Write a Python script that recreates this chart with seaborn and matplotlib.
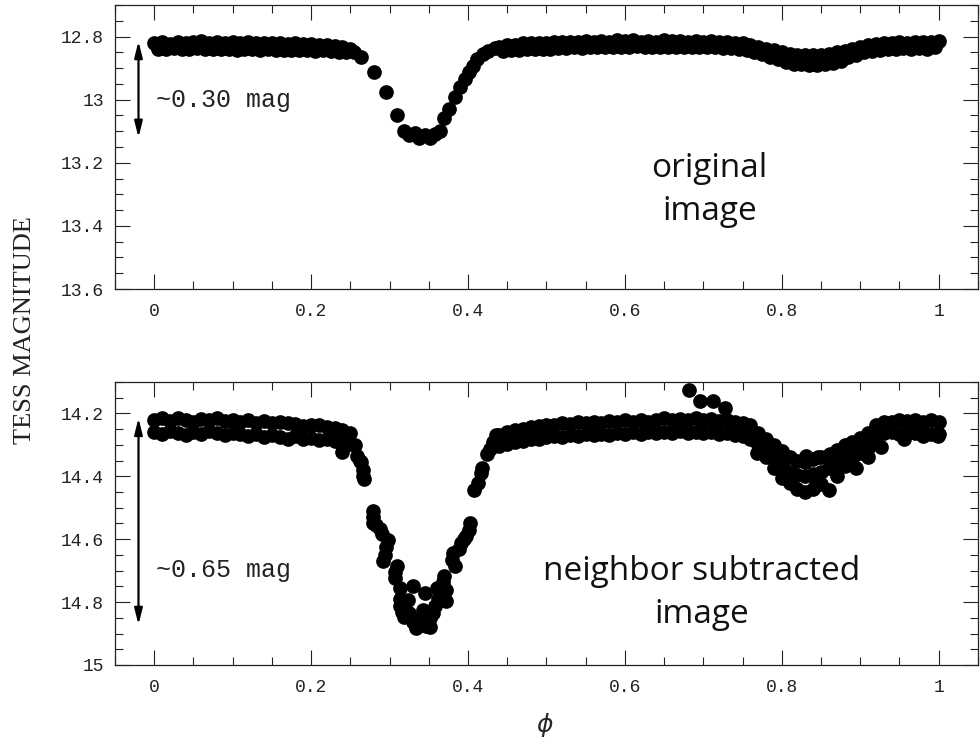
import numpy as np
import pandas as pd
import matplotlib
matplotlib.use("Agg")
import matplotlib.pyplot as plt
import seaborn as sns
from matplotlib.ticker import MultipleLocator, FuncFormatter

sns.set_theme(style="ticks")

# ---- top panel: original image light curve (phase, TESS mag) ----
# out of eclipse 0 - 0.25, two interleaved rows
top_a_phase = [0.00, 0.01, 0.02, 0.03, 0.04, 0.05, 0.06, 0.07, 0.08, 0.09, 0.10, 0.11,
               0.12, 0.13, 0.14, 0.15, 0.16, 0.17, 0.18, 0.19, 0.20, 0.21, 0.22, 0.23,
               0.24, 0.25]
top_a_up = [12.822, 12.818, 12.824, 12.816, 12.822, 12.818, 12.814, 12.820, 12.818,
            12.822, 12.818, 12.820, 12.816, 12.822, 12.820, 12.822, 12.820, 12.824,
            12.822, 12.824, 12.824, 12.826, 12.826, 12.830, 12.832, 12.840]
top_a_lo_phase = [0.005, 0.015, 0.025, 0.035, 0.045, 0.055, 0.065, 0.075, 0.085, 0.095,
                  0.105, 0.115, 0.125, 0.135, 0.145, 0.155, 0.165, 0.175, 0.185, 0.195,
                  0.205, 0.215, 0.225, 0.235, 0.245]
top_a_lo = [12.838, 12.840, 12.836, 12.840, 12.838, 12.836, 12.840, 12.838, 12.840,
            12.838, 12.842, 12.838, 12.840, 12.842, 12.840, 12.842, 12.842, 12.844,
            12.842, 12.844, 12.846, 12.844, 12.846, 12.848, 12.850]

# primary eclipse
top_ecl_phase = [0.255, 0.264, 0.280, 0.295, 0.310, 0.318, 0.325, 0.332, 0.338, 0.345,
                 0.352, 0.358, 0.364, 0.370, 0.376, 0.383, 0.390, 0.396, 0.401, 0.406,
                 0.412, 0.419, 0.426, 0.434]
top_ecl_mag = [12.850, 12.866, 12.912, 12.975, 13.050, 13.100, 13.112, 13.105, 13.122,
               13.112, 13.120, 13.108, 13.098, 13.058, 13.030, 12.992, 12.960, 12.935,
               12.912, 12.893, 12.872, 12.856, 12.846, 12.836]

# out of eclipse + secondary, 0.44 - 1
top_b_phase = [0.44, 0.45, 0.46, 0.47, 0.48, 0.49, 0.50, 0.51, 0.52, 0.53, 0.54, 0.55,
               0.56, 0.57, 0.58, 0.59, 0.60, 0.61, 0.62, 0.63, 0.64, 0.65, 0.66, 0.67,
               0.68, 0.69, 0.70, 0.71, 0.72, 0.73, 0.74, 0.75, 0.76, 0.77, 0.78, 0.79,
               0.80, 0.81, 0.82, 0.83, 0.84, 0.85, 0.86, 0.87, 0.88, 0.89, 0.90, 0.91,
               0.92, 0.93, 0.94, 0.95, 0.96, 0.97, 0.98, 0.99, 1.00]
top_b_up = [12.834, 12.826, 12.826, 12.822, 12.822, 12.820, 12.820, 12.818, 12.818,
            12.816, 12.818, 12.814, 12.816, 12.814, 12.816, 12.812, 12.814, 12.812,
            12.816, 12.814, 12.816, 12.812, 12.814, 12.814, 12.816, 12.814, 12.816,
            12.814, 12.818, 12.818, 12.820, 12.822, 12.826, 12.832, 12.838, 12.844,
            12.850, 12.854, 12.858, 12.860, 12.860, 12.858, 12.856, 12.850, 12.846,
            12.840, 12.834, 12.828, 12.824, 12.822, 12.820, 12.818, 12.820, 12.816,
            12.818, 12.816, 12.814]
top_b_lo_phase = [0.445, 0.455, 0.465, 0.475, 0.485, 0.495, 0.505, 0.515, 0.525, 0.535,
                  0.545, 0.555, 0.565, 0.575, 0.585, 0.595, 0.605, 0.615, 0.625, 0.635,
                  0.645, 0.655, 0.665, 0.675, 0.685, 0.695, 0.705, 0.715, 0.725, 0.735,
                  0.745, 0.755, 0.765, 0.775, 0.785, 0.795, 0.805, 0.815, 0.825, 0.835,
                  0.845, 0.855, 0.865, 0.875, 0.885, 0.895, 0.905, 0.915, 0.925, 0.935,
                  0.945, 0.955, 0.965, 0.975, 0.985, 0.995]
top_b_lo = [12.846, 12.844, 12.842, 12.840, 12.840, 12.838, 12.838, 12.836, 12.836,
            12.834, 12.836, 12.832, 12.834, 12.832, 12.834, 12.832, 12.834, 12.830,
            12.834, 12.832, 12.834, 12.832, 12.834, 12.832, 12.834, 12.832, 12.834,
            12.834, 12.836, 12.836, 12.838, 12.842, 12.848, 12.856, 12.864, 12.872,
            12.880, 12.886, 12.888, 12.890, 12.890, 12.888, 12.884, 12.876, 12.866,
            12.858, 12.850, 12.846, 12.842, 12.840, 12.838, 12.836, 12.838, 12.836,
            12.838, 12.834]

# ---- bottom panel: neighbor subtracted image ----
band_a_phase = [0.00, 0.01, 0.02, 0.03, 0.04, 0.05, 0.06, 0.07, 0.08, 0.09, 0.10, 0.11,
                0.12, 0.13, 0.14, 0.15, 0.16, 0.17, 0.18, 0.19, 0.20, 0.21, 0.22, 0.23]
band_a_up = [14.220, 14.214, 14.224, 14.216, 14.222, 14.226, 14.218, 14.222, 14.214,
             14.224, 14.220, 14.228, 14.222, 14.230, 14.224, 14.232, 14.226, 14.232,
             14.234, 14.240, 14.236, 14.238, 14.244, 14.246]
band_a_lo = [14.258, 14.266, 14.256, 14.262, 14.268, 14.258, 14.264, 14.256, 14.262,
             14.270, 14.262, 14.266, 14.272, 14.266, 14.276, 14.268, 14.274, 14.280,
             14.272, 14.282, 14.278, 14.284, 14.280, 14.288]

ecl_phase = [0.240, 0.240, 0.239, 0.249, 0.250, 0.256, 0.258, 0.262, 0.264, 0.266,
             0.266, 0.268,
             0.279, 0.279, 0.279, 0.283, 0.2875, 0.290, 0.298, 0.296, 0.294, 0.292,
             0.309, 0.3066, 0.3066, 0.313, 0.313, 0.330, 0.313, 0.3236, 0.319, 0.316,
             0.325, 0.330, 0.334, 0.338, 0.345, 0.343, 0.340, 0.347, 0.351, 0.351,
             0.346, 0.3576, 0.355, 0.360, 0.362, 0.370, 0.3725, 0.3725, 0.368, 0.381,
             0.383, 0.380, 0.3916, 0.388, 0.398, 0.395, 0.402, 0.401,
             0.408, 0.4128, 0.417, 0.418, 0.424, 0.4276, 0.432, 0.436]
ecl_mag = [14.252, 14.290, 14.324, 14.298, 14.262, 14.300, 14.335, 14.350, 14.356,
           14.380, 14.399, 14.410,
           14.511, 14.530, 14.548, 14.555, 14.569, 14.585, 14.601, 14.625, 14.649,
           14.670, 14.686, 14.705, 14.723, 14.755, 14.790, 14.750, 14.814, 14.793,
           14.846, 14.830, 14.835, 14.862, 14.883, 14.870, 14.771, 14.824, 14.850,
           14.840, 14.851, 14.878, 14.875, 14.814, 14.835, 14.755, 14.790, 14.718,
           14.761, 14.798, 14.735, 14.644, 14.686, 14.665, 14.612, 14.630, 14.591,
           14.600, 14.548, 14.570,
           14.445, 14.420, 14.388, 14.375, 14.330, 14.314, 14.290, 14.270]

band_b_phase = [0.44, 0.45, 0.46, 0.47, 0.48, 0.49, 0.50, 0.51, 0.52, 0.53, 0.54,
                0.55, 0.56, 0.57, 0.58, 0.59, 0.60, 0.61, 0.62, 0.63, 0.64, 0.65,
                0.66, 0.67, 0.68, 0.69, 0.70, 0.71, 0.72, 0.73, 0.74, 0.75, 0.76]
band_b_up = [14.268, 14.258, 14.252, 14.250, 14.244, 14.240, 14.238, 14.236, 14.232,
             14.234, 14.228, 14.230, 14.226, 14.230, 14.224, 14.228, 14.222, 14.226,
             14.222, 14.226, 14.220, 14.216, 14.222, 14.218, 14.222, 14.216, 14.222,
             14.218, 14.224, 14.220, 14.226, 14.230, 14.238]
band_b_lo = [14.305, 14.298, 14.292, 14.288, 14.282, 14.280, 14.276, 14.272, 14.274,
             14.268, 14.272, 14.266, 14.270, 14.264, 14.268, 14.262, 14.266, 14.260,
             14.264, 14.258, 14.262, 14.258, 14.262, 14.256, 14.262, 14.258, 14.262,
             14.258, 14.264, 14.262, 14.268, 14.272, 14.280]

outlier_phase = [0.682, 0.696, 0.712, 0.728]
outlier_mag = [14.126, 14.162, 14.160, 14.184]

dip_phase = [0.77, 0.78, 0.79, 0.80, 0.81, 0.82, 0.83, 0.84, 0.85, 0.86, 0.87, 0.88,
             0.89, 0.90, 0.91]
dip_up = [14.262, 14.280, 14.300, 14.320, 14.340, 14.352, 14.355, 14.345, 14.338,
          14.332, 14.315, 14.300, 14.290, 14.278, 14.262]
dip_mid = [14.285, 14.312, 14.340, 14.365, 14.385, 14.395, 14.400, 14.392, 14.385,
           14.372, 14.350, 14.335, 14.318, 14.300, 14.290]
dip_lo = [14.300, 14.340, 14.372, 14.405, 14.420, 14.440, 14.450, 14.440, 14.425,
          14.445, 14.400, 14.368, 14.345, 14.325, 14.310]
dip_x_phase = [0.769, 0.831, 0.846, 0.861, 0.876, 0.895, 0.9096, 0.9266, 0.844]
dip_x_mag = [14.325, 14.335, 14.340, 14.330, 14.367, 14.372, 14.340, 14.308, 14.415]

band_c_phase = [0.92, 0.93, 0.94, 0.95, 0.96, 0.97, 0.98, 0.99, 1.00]
band_c_up = [14.238, 14.228, 14.226, 14.220, 14.224, 14.220, 14.226, 14.222, 14.228]
band_c_lo = [14.272, 14.262, 14.258, 14.264, 14.256, 14.262, 14.258, 14.264, 14.266]
band_c_x_phase = [0.956, 0.980, 0.999]
band_c_x_mag = [14.282, 14.272, 14.272]

top = pd.DataFrame({
    "phase": top_a_phase + top_a_lo_phase + top_ecl_phase + top_b_phase + top_b_lo_phase,
    "mag": top_a_up + top_a_lo + top_ecl_mag + top_b_up + top_b_lo,
})
bot = pd.DataFrame({
    "phase": (band_a_phase * 2 + ecl_phase + band_b_phase * 2 + outlier_phase
              + dip_phase * 3 + dip_x_phase + band_c_phase * 2 + band_c_x_phase),
    "mag": (band_a_up + band_a_lo + ecl_mag + band_b_up + band_b_lo + outlier_mag
            + dip_up + dip_mid + dip_lo + dip_x_mag + band_c_up + band_c_lo
            + band_c_x_mag),
})

TICK_FONT = "Liberation Mono"
INK = "#222222"
fig = plt.figure(figsize=(9.8, 7.43), dpi=100)
ax1 = fig.add_axes([0.1173, 0.611, 0.8806, 0.3823])
ax2 = fig.add_axes([0.1173, 0.105, 0.8806, 0.3809])

fmt = FuncFormatter(lambda v, p: f"{v:g}")
for ax, df, ylim in [(ax1, top, (13.6, 12.7)), (ax2, bot, (15.0, 14.1))]:
    sns.scatterplot(data=df, x="phase", y="mag", ax=ax, color="black", s=112,
                    linewidth=0, marker="o", legend=False)
    ax.set_xlim(-0.05, 1.05)
    ax.set_ylim(*ylim)
    ax.set_xlabel("")
    ax.set_ylabel("")
    ax.xaxis.set_major_locator(MultipleLocator(0.2))
    ax.xaxis.set_minor_locator(MultipleLocator(0.05))
    ax.yaxis.set_major_locator(MultipleLocator(0.2))
    ax.yaxis.set_minor_locator(MultipleLocator(0.05))
    ax.xaxis.set_major_formatter(fmt)
    ax.yaxis.set_major_formatter(fmt)
    ax.tick_params(which="both", direction="in", top=True, right=True, width=0.8,
                   colors=INK)
    ax.tick_params(which="major", length=11)
    ax.tick_params(which="minor", length=6)
    ax.tick_params(axis="x", which="major", pad=10)
    ax.tick_params(axis="y", which="major", pad=8)
    for lab in ax.get_xticklabels() + ax.get_yticklabels():
        lab.set_family(TICK_FONT)
        lab.set_fontsize(13)
        lab.set_color(INK)
    for sp in ax.spines.values():
        sp.set_linewidth(0.9)
        sp.set_color(INK)

arrow = dict(arrowstyle="<|-|>,head_length=0.8,head_width=0.2", lw=1.6, color="black",
             shrinkA=0, shrinkB=0)
ax1.annotate("", xy=(-0.02, 12.815), xytext=(-0.02, 13.12), arrowprops=arrow)
ax2.annotate("", xy=(-0.02, 14.215), xytext=(-0.02, 14.872), arrowprops=arrow)
ax1.text(0.002, 13.0, "~0.30 mag", family=TICK_FONT, fontsize=18, ha="left",
         va="center", color=INK)
ax2.text(0.002, 14.697, "~0.65 mag", family=TICK_FONT, fontsize=18, ha="left",
         va="center", color=INK)

ax1.text(0.708, 13.285, "original\nimage", family="Open Sans", fontsize=24,
         ha="center", va="center", linespacing=1.4, color="#111111")
ax2.text(0.698, 14.77, "neighbor subtracted\nimage", family="Open Sans", fontsize=24,
         ha="center", va="center", linespacing=1.4, color="#111111")

fig.text(0.0255, 0.556, "TESS MAGNITUDE", rotation=90, family="Liberation Serif",
         fontsize=19, ha="center", va="center", color=INK)
fig.text(0.556, 0.024, r"$\phi$", fontsize=18, ha="center", va="center")

fig.savefig("out.png", dpi=100)
